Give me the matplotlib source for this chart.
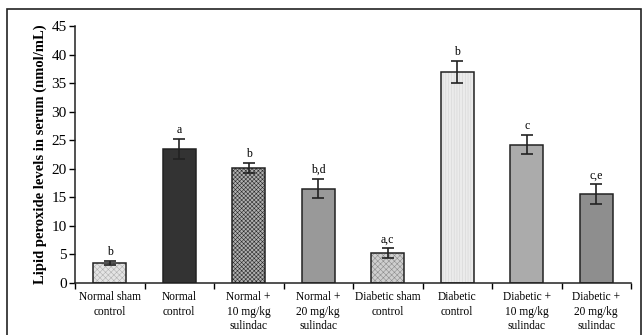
import matplotlib.pyplot as plt
from matplotlib.patches import Rectangle

groups = ["Normal sham\ncontrol", "Normal\ncontrol", "Normal +\n10 mg/kg\nsulindac",
          "Normal +\n20 mg/kg\nsulindac", "Diabetic sham\ncontrol", "Diabetic\ncontrol",
          "Diabetic +\n10 mg/kg\nsulindac", "Diabetic +\n20 mg/kg\nsulindac"]
means = [3.5, 23.5, 20.1, 16.5, 5.2, 37.0, 24.2, 15.6]
errs = [0.4, 1.8, 0.9, 1.7, 0.9, 1.9, 1.7, 1.7]
letters = ["b", "a", "b", "b,d", "a,c", "b", "c", "c,e"]

fills = ["#e4e4e4", "#333333", "#b0b0b0", "#999999", "#cfcfcf", "#ebebeb", "#ababab", "#8e8e8e"]
hatches = ["xxxxxx", None, "xxxxxxxx", None, "xxxxxx", "||||||", None, None]
hatch_cols = ["#b0b0b0", None, "#2a2a2a", None, "#8c8c8c", "#d4d4d4", None, None]

plt.rcParams['font.family'] = ['Liberation Serif', 'DejaVu Serif']
plt.rcParams['hatch.linewidth'] = 0.4

fig = plt.figure(figsize=(6.43, 3.35), dpi=100)
fig.patches.append(Rectangle((7 / 643, -0.01), 634 / 643, (335 - 9) / 335 + 0.01,
                             transform=fig.transFigure, fill=False,
                             edgecolor="#222222", linewidth=1.2))
ax = fig.add_axes([75 / 643, 1 - 283 / 335, (631 - 75) / 643, (283 - 26) / 335])

xs = [i + 0.5 for i in range(len(means))]
for i, x in enumerate(xs):
    ax.bar(x, means[i], width=0.48, color=fills[i], linewidth=0)
    if hatches[i]:
        # hatch layer, drawn in its own colour
        ax.bar(x, means[i], width=0.48, facecolor="none", edgecolor=hatch_cols[i],
               linewidth=0, hatch=hatches[i])
    ax.bar(x, means[i], width=0.48, facecolor="none", edgecolor="#222222", linewidth=1.1)
    ax.errorbar(x, means[i], yerr=errs[i], fmt="none", ecolor="#222222",
                elinewidth=1.2, capsize=4, capthick=1.2)
    ax.text(x, means[i] + errs[i] + 0.5, letters[i], ha="center", va="bottom", fontsize=8.5)

ax.set_xlim(0, 8)
ax.set_ylim(0, 45)
ax.set_yticks(range(0, 46, 5))
ax.set_xticks(range(0, 9))
ax.set_xticklabels([])
ax.set_xticks(xs, minor=True)
ax.set_xticklabels(groups, minor=True, fontsize=8.3, linespacing=1.25)
ax.tick_params(axis="x", which="minor", length=0, pad=6)
ax.tick_params(axis="x", which="major", length=4, direction="out", width=1)
ax.tick_params(axis="y", length=4, width=1, labelsize=11, pad=2)
for s in ["top", "right"]:
    ax.spines[s].set_visible(False)
for s in ["left", "bottom"]:
    ax.spines[s].set_linewidth(1.1)
    ax.spines[s].set_color("#222222")

ax.set_ylabel("Lipid peroxide levels in serum (nmol/mL)", fontsize=10.5, fontweight="bold", labelpad=3)

fig.savefig("out.png", dpi=100)
